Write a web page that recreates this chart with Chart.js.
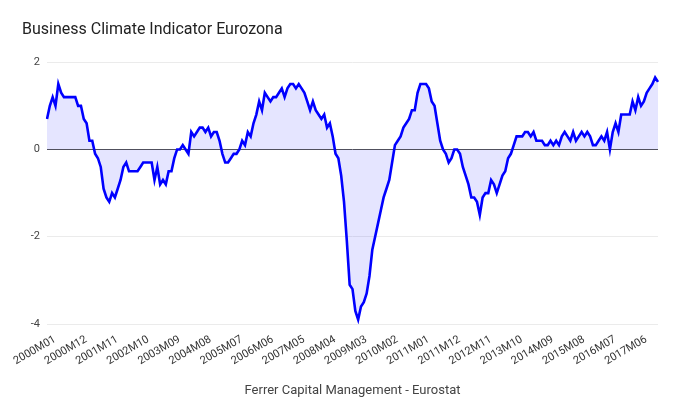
<!DOCTYPE html>
<html>
<head>
<meta charset="utf-8">
<script src="https://cdn.jsdelivr.net/npm/chart.js@4/dist/chart.umd.min.js"></script>
<style>
  html, body { margin: 0; padding: 0; background: #ffffff; }
  #wrap { width: 680px; height: 420px; position: relative; }
</style>
</head>
<body>
<div id="wrap"><canvas id="c" width="680" height="420"></canvas></div>
<script>
// Monthly categories 2000M01 .. 2018M01
const startYear = 2000;
const monthCount = 217;
const categories = [];
for (let k = 0; k < monthCount; k++) {
  const y = startYear + Math.floor(k / 12);
  const m = (k % 12) + 1;
  categories.push(y + 'M' + (m < 10 ? '0' + m : String(m)));
}

// Business Climate Indicator values, one row per year
const bci2000 = [0.7, 1.0, 1.2, 1.0, 1.5, 1.3, 1.2, 1.2, 1.2, 1.2, 1.2, 1.0];
const bci2001 = [1.0, 0.7, 0.6, 0.2, 0.2, -0.1, -0.2, -0.4, -0.9, -1.1, -1.2, -1.0];
const bci2002 = [-1.1, -0.9, -0.7, -0.4, -0.3, -0.5, -0.5, -0.5, -0.5, -0.4, -0.3, -0.3];
const bci2003 = [-0.3, -0.3, -0.7, -0.4, -0.8, -0.7, -0.8, -0.5, -0.5, -0.2, 0.0, 0.0];
const bci2004 = [0.1, 0.0, -0.1, 0.4, 0.3, 0.4, 0.5, 0.5, 0.4, 0.5, 0.3, 0.4];
const bci2005 = [0.4, 0.2, -0.1, -0.3, -0.3, -0.2, -0.1, -0.1, 0.0, 0.2, 0.1, 0.4];
const bci2006 = [0.3, 0.6, 0.8, 1.1, 0.9, 1.3, 1.2, 1.1, 1.2, 1.2, 1.3, 1.4];
const bci2007 = [1.2, 1.4, 1.5, 1.5, 1.4, 1.5, 1.4, 1.3, 1.1, 0.9, 1.1, 0.9];
const bci2008 = [0.8, 0.7, 0.8, 0.5, 0.6, 0.3, -0.1, -0.2, -0.6, -1.2, -2.1, -3.1];
const bci2009 = [-3.2, -3.7, -3.9, -3.6, -3.5, -3.3, -2.9, -2.3, -2.0, -1.7, -1.4, -1.1];
const bci2010 = [-0.9, -0.7, -0.3, 0.1, 0.2, 0.3, 0.5, 0.6, 0.7, 0.9, 0.9, 1.3];
const bci2011 = [1.5, 1.5, 1.5, 1.4, 1.1, 1.0, 0.6, 0.2, 0.0, -0.1, -0.3, -0.2];
const bci2012 = [0.0, 0.0, -0.1, -0.4, -0.6, -0.8, -1.1, -1.1, -1.2, -1.5, -1.1, -1.0];
const bci2013 = [-1.0, -0.7, -0.8, -1.0, -0.8, -0.6, -0.5, -0.2, -0.1, 0.1, 0.3, 0.3];
const bci2014 = [0.3, 0.4, 0.4, 0.3, 0.4, 0.2, 0.2, 0.2, 0.1, 0.1, 0.2, 0.1];
const bci2015 = [0.2, 0.1, 0.3, 0.4, 0.3, 0.2, 0.4, 0.2, 0.3, 0.4, 0.3, 0.4];
const bci2016 = [0.3, 0.1, 0.1, 0.2, 0.3, 0.2, 0.4, 0.0, 0.4, 0.6, 0.4, 0.8];
const bci2017 = [0.8, 0.8, 0.8, 1.1, 0.9, 1.2, 1.0, 1.1, 1.3, 1.4, 1.5, 1.65];
const bci2018 = [1.55];

const bciValues = [].concat(bci2000, bci2001, bci2002, bci2003, bci2004, bci2005,
  bci2006, bci2007, bci2008, bci2009, bci2010, bci2011, bci2012, bci2013,
  bci2014, bci2015, bci2016, bci2017, bci2018);

// Tick labels shown on the x axis
const xTickLabels = ['2000M01', '2000M12', '2001M11', '2002M10', '2003M09', '2004M08',
  '2005M07', '2006M06', '2007M05', '2008M04', '2009M03', '2010M02', '2011M01',
  '2011M12', '2012M11', '2013M10', '2014M09', '2015M08', '2016M07', '2017M06'];

// y axis ticks
const yTicks = [-4, -2, 0, 2];

const chartTitle = 'Business Climate Indicator Eurozona';
const xAxisTitle = 'Ferrer Capital Management - Eurostat';

const FONT = 'Roboto, "Noto Sans", Arial, sans-serif';

new Chart(document.getElementById('c'), {
  type: 'line',
  data: {
    labels: categories,
    datasets: [{
      data: bciValues,
      borderColor: '#0000ff',
      borderWidth: 2.6,
      backgroundColor: 'rgba(0,0,255,0.1)',
      fill: 'origin',
      pointRadius: 0,
      pointHoverRadius: 0,
      tension: 0,
      borderJoinStyle: 'miter'
    }]
  },
  options: {
    responsive: false,
    animation: false,
    devicePixelRatio: 1,
    layout: { padding: { left: 22, right: 22, top: 0, bottom: 0 } },
    plugins: {
      legend: { display: false },
      tooltip: { enabled: false },
      title: {
        display: true,
        text: chartTitle,
        align: 'start',
        color: '#222222',
        font: { family: FONT, size: 16, weight: 'normal' },
        padding: { top: 20, bottom: 23 }
      }
    },
    scales: {
      x: {
        type: 'category',
        offset: false,
        grid: { display: false, drawTicks: false },
        border: { display: false },
        afterBuildTicks: (scale) => {
          scale.ticks = scale.ticks.filter(t => xTickLabels.includes(categories[t.value]));
        },
        afterFit: (scale) => {
          scale.height = 96;
          scale.paddingLeft = 0;
          scale.paddingRight = 0;
        },
        ticks: {
          autoSkip: false,
          minRotation: 30,
          maxRotation: 30,
          padding: 9,
          labelOffset: 8,
          color: '#333333',
          font: { family: FONT, size: 11 }
        },
        title: {
          display: true,
          text: xAxisTitle,
          color: '#444444',
          font: { family: FONT, size: 13 },
          padding: { top: 4, bottom: 21 }
        }
      },
      y: {
        min: -4,
        max: 2,
        afterBuildTicks: (scale) => {
          scale.ticks = yTicks.map(v => ({ value: v }));
        },
        afterFit: (scale) => { scale.width = 25; },
        border: { display: false },
        grid: {
          drawTicks: false,
          lineWidth: 1,
          color: (ctx) => (ctx.tick && ctx.tick.value === 0) ? '#555555' : '#ebebeb'
        },
        ticks: {
          padding: 7,
          color: '#444444',
          font: { family: FONT, size: 11 }
        }
      }
    }
  }
});
</script>
</body>
</html>
